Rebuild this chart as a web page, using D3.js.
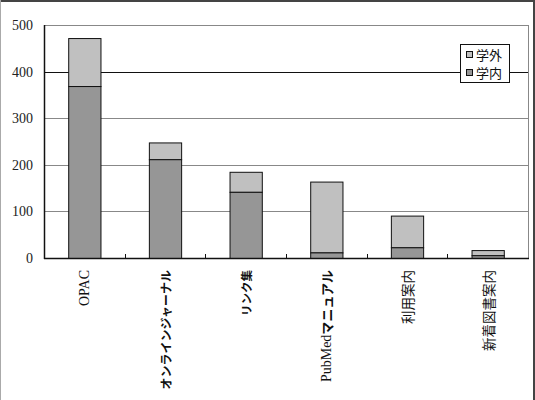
<!DOCTYPE html>
<html>
<head>
<meta charset="utf-8">
<script src="https://cdn.jsdelivr.net/npm/d3@7"></script>
<style>
  body { margin: 0; background: #fff; }
  svg { display: block; }
</style>
</head>
<body>
<div id="chart"></div>
<script>
// chart data
var categories = ["OPAC", "オンラインジャーナル", "リンク集", "PubMedマニュアル", "利用案内", "新着図書案内"];
var gakunai = [369, 212, 142, 12, 23, 6];     // 学内
var gakugai = [103, 36, 43, 152, 68, 11];     // 学外
var yTicks = [0, 100, 200, 300, 400, 500];
var seriesNames = ["学外", "学内"];

var w = 535, h = 400;
var plot = {left: 44, right: 528, top: 25, bottom: 258};

var svg = d3.select("#chart")
  .append("svg")
  .attr("width", w)
  .attr("height", h);

// outer frame
svg.append("rect").attr("x", 0).attr("y", 0).attr("width", w).attr("height", h).attr("fill", "#fff");
svg.append("line").attr("x1", 0).attr("x2", w).attr("y1", 1).attr("y2", 1).attr("stroke", "#444").attr("stroke-width", 2);
svg.append("line").attr("x1", w - 1).attr("x2", w - 1).attr("y1", 0).attr("y2", h).attr("stroke", "#444").attr("stroke-width", 2);
svg.append("line").attr("x1", 0.5).attr("x2", 0.5).attr("y1", 0).attr("y2", h).attr("stroke", "#aaa").attr("stroke-width", 1);

var x = d3.scaleBand()
  .domain(categories)
  .range([plot.left, plot.right])
  .paddingInner(0.6)
  .paddingOuter(0.3);

var y = d3.scaleLinear()
  .domain([0, 500])
  .range([plot.bottom, plot.top]);

// gridlines
svg.append("g").selectAll("line")
  .data(yTicks.slice(1))
  .enter()
  .append("line")
  .attr("x1", plot.left)
  .attr("x2", plot.right)
  .attr("y1", function(d) { return Math.round(y(d)) + 0.5; })
  .attr("y2", function(d) { return Math.round(y(d)) + 0.5; })
  .attr("stroke", function(d) { return d == 400 ? "#111" : "#888"; })
  .attr("stroke-width", 1);

// right border of plot area
svg.append("line")
  .attr("x1", plot.right + 0.5).attr("x2", plot.right + 0.5)
  .attr("y1", plot.top).attr("y2", plot.bottom)
  .attr("stroke", "#888");

// y labels
svg.append("g").selectAll("text")
  .data(yTicks)
  .enter()
  .append("text")
  .attr("x", 33)
  .attr("y", function(d) { return y(d); })
  .attr("dy", "0.35em")
  .attr("text-anchor", "end")
  .attr("font-family", "'Liberation Serif', serif")
  .attr("font-size", "14px")
  .attr("fill", "#222")
  .text(function(d) { return d; });

// stacked bars
var barW = x.bandwidth();
var bars = svg.append("g");
categories.forEach(function(c, i) {
  bars.append("rect")
    .attr("x", x(c) + 0.5)
    .attr("y", y(gakunai[i] + gakugai[i]) + 0.5)
    .attr("width", barW)
    .attr("height", y(gakunai[i]) - y(gakunai[i] + gakugai[i]))
    .attr("fill", "#c0c0c0")
    .attr("stroke", "#111");
  bars.append("rect")
    .attr("x", x(c) + 0.5)
    .attr("y", y(gakunai[i]) + 0.5)
    .attr("width", barW)
    .attr("height", y(0) - y(gakunai[i]))
    .attr("fill", "#969696")
    .attr("stroke", "#111");
});

// axes
svg.append("line")
  .attr("x1", plot.left + 0.5).attr("x2", plot.left + 0.5)
  .attr("y1", plot.top).attr("y2", plot.bottom + 1)
  .attr("stroke", "#111").attr("stroke-width", 1.5);
svg.append("line")
  .attr("x1", plot.left).attr("x2", plot.right + 1)
  .attr("y1", plot.bottom + 0.5).attr("y2", plot.bottom + 0.5)
  .attr("stroke", "#111").attr("stroke-width", 1.5);

// x ticks between categories (inward)
var step = x.step();
svg.append("g").selectAll("line")
  .data(d3.range(1, categories.length))
  .enter()
  .append("line")
  .attr("x1", function(d) { return Math.round(plot.left + d * step) + 0.5; })
  .attr("x2", function(d) { return Math.round(plot.left + d * step) + 0.5; })
  .attr("y1", plot.bottom - 4)
  .attr("y2", plot.bottom)
  .attr("stroke", "#111");

// x labels, rotated
var labelParts = [
  [{t: "OPAC", f: "'Liberation Serif', serif", wgt: "normal", s: 14}],
  [{t: "オンラインジャーナル", f: "'Noto Sans CJK JP', sans-serif", wgt: "bold", s: 12}],
  [{t: "リンク集", f: "'Noto Sans CJK JP', sans-serif", wgt: "bold", s: 11.5}],
  [{t: "PubMed", f: "'Liberation Serif', serif", wgt: "normal", s: 14},
   {t: "マニュアル", f: "'Noto Sans CJK JP', sans-serif", wgt: "bold", s: 13}],
  [{t: "利用案内", f: "'Noto Sans CJK JP', sans-serif", wgt: "normal", s: 13.5}],
  [{t: "新着図書案内", f: "'Noto Sans CJK JP', sans-serif", wgt: "normal", s: 13.5}]
];

categories.forEach(function(c, i) {
  var cx = x(c) + barW / 2;
  var t = svg.append("text")
    .attr("transform", "translate(" + cx + "," + 270 + ") rotate(-90)")
    .attr("text-anchor", "end")
    .attr("dominant-baseline", "central")
    .attr("fill", "#111");
  labelParts[i].forEach(function(p) {
    t.append("tspan")
      .attr("font-family", p.f)
      .attr("font-weight", p.wgt)
      .attr("font-size", p.s + "px")
      .text(p.t);
  });
});

// legend
var lg = svg.append("g").attr("transform", "translate(460,44)");
lg.append("rect")
  .attr("x", 0.5).attr("y", 0.5)
  .attr("width", 49).attr("height", 38)
  .attr("fill", "#fff")
  .attr("stroke", "#111");
var legendColors = ["#c0c0c0", "#969696"];
seriesNames.forEach(function(n, i) {
  lg.append("rect")
    .attr("x", 6.5).attr("y", 7.5 + i * 18)
    .attr("width", 6).attr("height", 6)
    .attr("fill", legendColors[i])
    .attr("stroke", "#111");
  lg.append("text")
    .attr("x", 16)
    .attr("y", 11 + i * 18)
    .attr("dy", "0.35em")
    .attr("font-family", "'Noto Sans CJK JP', sans-serif")
    .attr("font-size", "13px")
    .attr("fill", "#111")
    .text(n);
});
</script>
</body>
</html>
